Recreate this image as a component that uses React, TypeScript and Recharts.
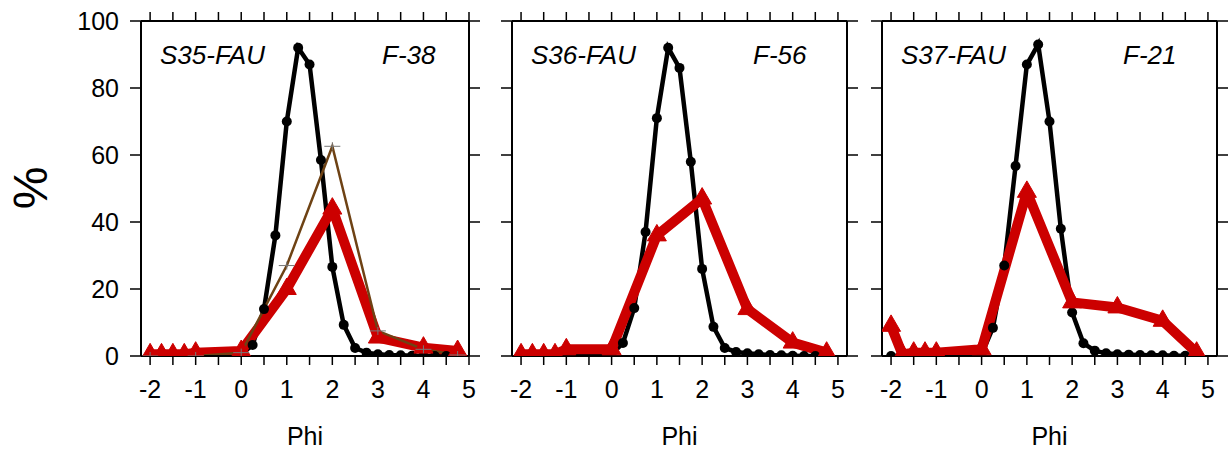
import React from "react";
import { LineChart, Line, XAxis, YAxis } from "recharts";

const FONT = '"Liberation Sans", Arial, Helvetica, sans-serif';

// phi classes
const blackPhi = [-2, 0, 0.25, 0.5, 0.75, 1, 1.25, 1.5, 1.75, 2, 2.25, 2.5, 2.75, 3, 3.25, 3.5, 3.75, 4, 4.25, 4.5];
const redPhi = [-2, -1.75, -1.5, -1.25, -1, 0, 1, 2, 3, 4, 4.75];
const brownPhi = [-2, -1, 0, 1, 2, 3, 4, 4.75];

// black (beach sand) curves
const s35Black = [0, 0.5, 3.3, 14, 36, 70, 92, 87, 58.5, 26.6, 9.3, 2.4, 1.0, 0.5, 0.3, 0.2, 0.1, 0.1, 0, 0];
const s36Black = [0, 0.5, 3.9, 14.3, 37, 71, 92, 86, 58, 26, 8.7, 2.4, 1.2, 0.8, 0.5, 0.3, 0.2, 0.1, 0, 0];
const s37Black = [0, 0.5, 8.4, 27, 56.7, 87, 93, 70, 38, 13, 3.8, 1.6, 0.8, 0.5, 0.4, 0.3, 0.2, 0.2, 0.1, 0.1];

// red (F samples) curves
const f38Red = [0.5, 0.5, 0.5, 0.5, 1, 1.5, 20, 44, 5.5, 2.5, 1.5];
const f56Red = [0.5, 0.5, 0.5, 0.5, 2, 2, 36, 47, 14, 4, 1];
const f21Red = [9, 0.5, 1, 1, 1, 2, 49, 16, 14.5, 10.5, 1];

// brown curve, first panel only
const f38Brown = [0, 0, 1, 27, 62.6, 7.5, 2, 0.3];

const sampleNames = ["S35-FAU", "S36-FAU", "S37-FAU"];
const fNames = ["F-38", "F-56", "F-21"];

const xTicks = [-2, -1.5, -1, -0.5, 0, 0.5, 1, 1.5, 2, 2.5, 3, 3.5, 4, 4.5, 5];
const yTicks = [0, 20, 40, 60, 80, 100];

const rows = (xs: number[], ys: number[]) => xs.map((phi, i) => ({ phi, v: ys[i] }));

const panels = [
    { left: 0, width: 480, yw: 100, ml: 41, rw: 11, xMax: 5, black: s35Black, red: f38Red, brown: f38Brown, labels: true },
    { left: 490, width: 375, yw: 22, ml: 0, rw: 18, xMax: 5.2, black: s36Black, red: f56Red, brown: null, labels: false },
    { left: 860, width: 369, yw: 22, ml: 0, rw: 12, xMax: 5.2, black: s37Black, red: f21Red, brown: null, labels: false },
];

const TOP = 21;

const blank = () => "";

function Triangle(props: any) {
    const { cx, cy, index } = props;
    if (cx == null || cy == null) return <g key={index} />;
    const s = 19;
    const h = s * 0.866;
    const pts = `${cx},${cy - (2 * h) / 3} ${cx - s / 2},${cy + h / 3} ${cx + s / 2},${cy + h / 3}`;
    return <polygon key={index} points={pts} fill="#cc0000" stroke="#cc0000" strokeWidth={1} />;
}

function Plus(props: any) {
    const { cx, cy, index } = props;
    if (cx == null || cy == null) return <g key={index} />;
    return (
        <g key={index}>
            <line x1={cx - 8} x2={cx + 8} y1={cy} y2={cy} stroke="#777" strokeWidth={1} />
            <line x1={cx} x2={cx} y1={cy - 4} y2={cy + 4} stroke="#777" strokeWidth={1} />
        </g>
    );
}

function Panel({ p }: { p: (typeof panels)[number] }) {
    const axisLine = { stroke: "#000", strokeWidth: 2 };
    const tickLine = { stroke: "#000", strokeWidth: 1.5 };
    const tickFont = { fill: "#000", fontSize: 25, fontFamily: FONT };
    const domain: [number, number] = [-2.2, p.xMax];
    return (
        <div style={{ position: "absolute", left: p.left, top: 0 }}>
            <LineChart
                width={p.width}
                height={450}
                margin={{ top: 0, right: 0, bottom: 34, left: p.ml }}
            >
                <XAxis
                    xAxisId="bottom"
                    orientation="bottom"
                    type="number"
                    dataKey="phi"
                    domain={domain}
                    allowDataOverflow
                    ticks={xTicks}
                    interval={0}
                    tickFormatter={(v: number) => (Number.isInteger(v) ? String(v) : "")}
                    tick={tickFont}
                    tickSize={9}
                    tickMargin={15}
                    axisLine={axisLine}
                    tickLine={tickLine}
                    height={60}
                />
                <XAxis
                    xAxisId="top"
                    orientation="top"
                    type="number"
                    dataKey="phi"
                    domain={domain}
                    allowDataOverflow
                    ticks={xTicks}
                    interval={0}
                    tickFormatter={blank}
                    tick={tickFont}
                    tickSize={9}
                    axisLine={axisLine}
                    tickLine={tickLine}
                    height={TOP}
                />
                <YAxis
                    yAxisId="left"
                    orientation="left"
                    type="number"
                    domain={[0, 100]}
                    allowDataOverflow
                    ticks={yTicks}
                    interval={0}
                    tickFormatter={p.labels ? undefined : blank}
                    tick={tickFont}
                    tickSize={11}
                    tickMargin={11}
                    axisLine={axisLine}
                    tickLine={tickLine}
                    width={p.yw}
                />
                <YAxis
                    yAxisId="right"
                    orientation="right"
                    type="number"
                    domain={[0, 100]}
                    allowDataOverflow
                    ticks={yTicks}
                    interval={0}
                    tickFormatter={blank}
                    tick={tickFont}
                    tickSize={11}
                    axisLine={axisLine}
                    tickLine={tickLine}
                    width={p.rw}
                />
                <Line
                    xAxisId="bottom"
                    yAxisId="left"
                    data={rows(blackPhi, p.black)}
                    dataKey="v"
                    stroke="#000"
                    strokeWidth={4.5}
                    dot={{ r: 5, fill: "#000", stroke: "#000", strokeWidth: 0 }}
                    isAnimationActive={false}
                    type="linear"
                />
                <Line
                    xAxisId="bottom"
                    yAxisId="left"
                    data={rows(redPhi, p.red)}
                    dataKey="v"
                    stroke="#cc0000"
                    strokeWidth={10}
                    strokeLinejoin="round"
                    dot={Triangle}
                    isAnimationActive={false}
                    type="linear"
                />
                {p.brown && (
                    <Line
                        xAxisId="bottom"
                        yAxisId="left"
                        data={rows(brownPhi, p.brown)}
                        dataKey="v"
                        stroke="#6e4214"
                        strokeWidth={2.5}
                        dot={Plus}
                        isAnimationActive={false}
                        type="linear"
                    />
                )}
            </LineChart>
        </div>
    );
}

export default function App() {
    const plotLefts = [141, 512, 882];
    const plotRights = [469, 847, 1217];
    return (
        <div style={{ position: "absolute", left: 0, top: 0, width: 1229, height: 450, background: "#fff" }}>
            {panels.map((p, i) => (
                <Panel key={i} p={p} />
            ))}
            <svg
                width={1229}
                height={450}
                style={{ position: "absolute", left: 0, top: 0, pointerEvents: "none" }}
                fontFamily={FONT}
            >
                <text
                    x={30}
                    y={188}
                    fontSize={48}
                    textAnchor="middle"
                    dominantBaseline="central"
                    transform="rotate(-90 30 188)"
                >
                    %
                </text>
                {plotLefts.map((l, i) => (
                    <g key={i}>
                        <text x={l + 19} y={64} fontSize={26} fontStyle="italic">
                            {sampleNames[i]}
                        </text>
                        <text x={l + 241} y={64} fontSize={26} fontStyle="italic">
                            {fNames[i]}
                        </text>
                        <text x={(l + plotRights[i]) / 2} y={445} fontSize={25} textAnchor="middle">
                            Phi
                        </text>
                    </g>
                ))}
            </svg>
        </div>
    );
}
